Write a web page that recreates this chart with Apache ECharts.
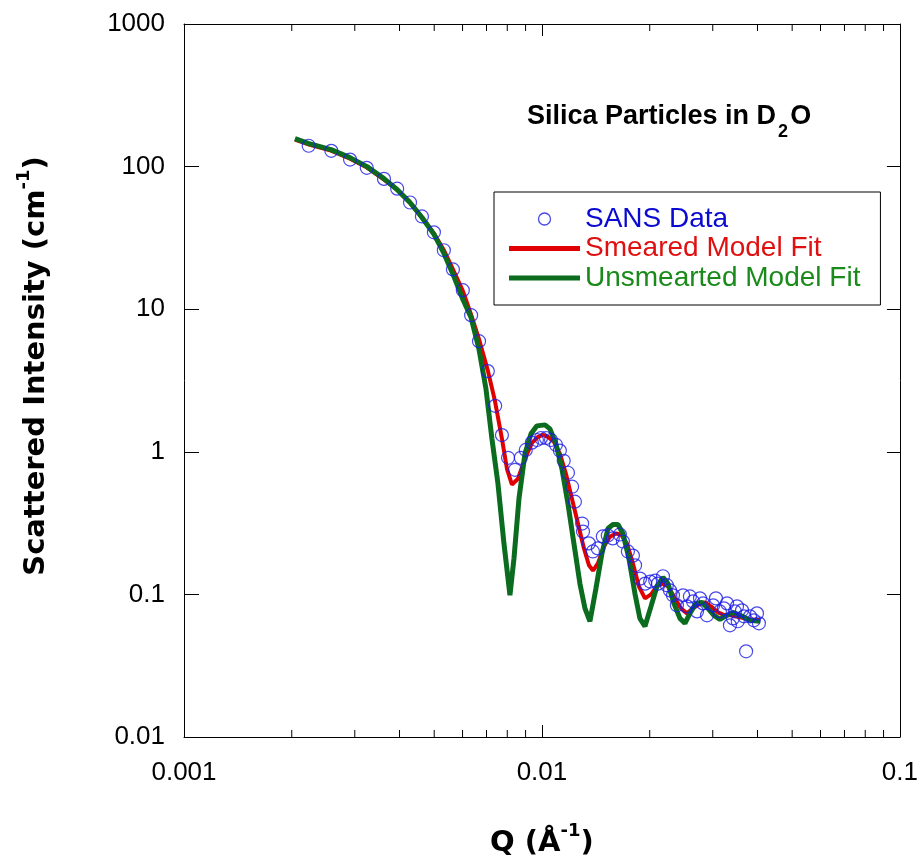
<!DOCTYPE html>
<html><head><meta charset="utf-8">
<script src="https://cdn.jsdelivr.net/npm/echarts@6/dist/echarts.min.js"></script>
<style>html,body{margin:0;padding:0;background:#fff;overflow:hidden;width:921px;height:863px}#c{position:absolute;left:0;top:0;width:921px;height:863px}</style>
</head><body><div id="c"></div><script>
const xTickLabels = ['0.001', '0.01', '0.1'];
const yTickLabels = ['0.01', '0.1', '1', '10', '100', '1000'];
const xMinorTicks = [0.002,0.003,0.004,0.005,0.006,0.007,0.008,0.009,0.02,0.03,0.04,0.05,0.06,0.07,0.08,0.09];

const sansData = [
 [0.00223,140],[0.00258,129],[0.00291,112],[0.00324,98],[0.00362,82],[0.00394,70],[0.00428,56],[0.00462,44.7],
 [0.00499,34.6],[0.00532,25.9],[0.00564,19.0],[0.00601,13.6],[0.00634,9.08],[0.00667,5.97],[0.00706,3.68],[0.00740,2.10],
 [0.00773,1.31],[0.00804,0.908],[0.00841,0.748],[0.00873,0.908],[0.00901,1.03],[0.00937,1.16],[0.00968,1.21],[0.00994,1.25],
 [0.01026,1.25],[0.0106,1.21],[0.01094,1.12],[0.01122,1.02],[0.01150,0.865],[0.01182,0.713],[0.01214,0.569],[0.01236,0.447],
 [0.01295,0.314],[0.01302,0.276],[0.01352,0.228],[0.01388,0.200],[0.01432,0.210],[0.01479,0.255],[0.01527,0.259],[0.01577,0.247],
 [0.01651,0.263],[0.01683,0.235],[0.01738,0.200],[0.01795,0.187],[0.01820,0.160],[0.01880,0.129],[0.01942,0.119],[0.02006,0.123],
 [0.02072,0.125],[0.02109,0.119],[0.02178,0.134],[0.02233,0.116],[0.02278,0.1067],[0.02323,0.0985],[0.02382,0.0838],[0.02478,0.0985],
 [0.02541,0.0824],[0.02590,0.0968],[0.02643,0.0893],[0.02711,0.0760],[0.02763,0.0938],[0.02820,0.0865],[0.02891,0.0713],[0.03007,0.0838],
 [0.03062,0.0938],[0.03141,0.0760],[0.03224,0.0798],[0.03289,0.0865],[0.03350,0.0607],[0.03416,0.0679],[0.03459,0.0760],[0.03506,0.0824],
 [0.03523,0.0648],[0.03622,0.0773],[0.03666,0.0702],[0.03718,0.0399],[0.03812,0.0702],[0.03908,0.0658],[0.03987,0.0736],[0.04037,0.0627]
];

const smearedFit = [
 [0.002042,154.5],[0.002235,142.5],[0.002574,129.4],[0.002909,113.7],[0.003245,98.4],[0.003620,81.1],[0.003936,69.1],[0.004279,56.0],
 [0.004622,44.0],[0.004993,34.0],[0.005324,25.9],[0.005641,19.0],[0.006015,13.4],[0.006333,9.23],[0.006668,6.17],[0.007066,3.68],
 [0.007391,2.27],[0.007732,1.233],[0.007983,0.760],[0.008245,0.588],[0.008570,0.647],[0.008963,0.893],[0.009377,1.156],[0.009745,1.273],
 [0.010065,1.315],[0.010394,1.273],[0.010801,1.175],[0.011227,0.968],[0.011667,0.702],[0.012127,0.469],[0.012605,0.314],[0.013101,0.210],
 [0.013528,0.160],[0.013881,0.147],[0.014332,0.165],[0.014897,0.217],[0.015484,0.254],[0.016095,0.267],[0.016622,0.263],[0.017275,0.227],
 [0.017950,0.165],[0.018653,0.114],[0.019400,0.0938],[0.020166,0.100],[0.020955,0.114],[0.021777,0.119],[0.022491,0.114],[0.023523,0.0938],
 [0.024449,0.0798],[0.025409,0.0736],[0.026412,0.0798],[0.027449,0.0851],[0.028531,0.0879],[0.029655,0.0824],[0.031017,0.0748],[0.032448,0.0713],
 [0.033938,0.0713],[0.035732,0.0690],[0.038107,0.0669],[0.040640,0.0658]
];

const unsmearedFit = [
 [0.002042,157.0],[0.002235,144.8],[0.002574,131.5],[0.002909,115.6],[0.003245,100],[0.003620,82.4],[0.003936,69.1],[0.004279,56.0],
 [0.004622,44.0],[0.004993,33.5],[0.005324,24.6],[0.005641,17.6],[0.006015,11.7],[0.006333,8.79],[0.006668,5.25],[0.006976,2.76],
 [0.007249,1.233],[0.007535,0.597],[0.007832,0.227],[0.008139,0.0985],[0.008352,0.1786],[0.008625,0.469],[0.008963,0.968],[0.009317,1.336],
 [0.009683,1.520],[0.010195,1.545],[0.010527,1.448],[0.010941,1.137],[0.011372,0.760],[0.011818,0.433],[0.012284,0.227],[0.012766,0.119],
 [0.013186,0.0798],[0.013615,0.0647],[0.014150,0.110],[0.014706,0.1936],[0.015290,0.2897],[0.015787,0.309],[0.016304,0.309],[0.016838,0.267],
 [0.017498,0.1786],[0.018183,0.1016],[0.018774,0.0679],[0.019400,0.0597],[0.020166,0.0824],[0.020955,0.114],[0.021777,0.1315],[0.022491,0.119],
 [0.023372,0.0865],[0.024292,0.0679],[0.025083,0.0627],[0.025900,0.0736],[0.026920,0.0865],[0.027980,0.0879],[0.029082,0.0798],[0.030226,0.0713],
 [0.031419,0.0669],[0.032869,0.0713],[0.034157,0.0748],[0.035732,0.0713],[0.038107,0.0658],[0.040640,0.0647]
];

const FONT = '"Liberation Sans", Arial, sans-serif';
const TFONT = '"DejaVu Sans", Verdana, sans-serif';
const Y_MIN = 0.01, Y_MAX = 1000, X_MIN = 0.001, X_MAX = 0.1;

function pickLabel(list, v) {
  const s = list.find(t => Math.abs(Math.log10(parseFloat(t)) - Math.log10(v)) < 1e-6);
  return s === undefined ? '' : s;
}

const chart = echarts.init(document.getElementById('c'), null, { width: 921, height: 863 });
const tickStyle = { color: '#000', width: 1 };
const axisRich = {
  a: { fontFamily: TFONT, fontSize: 29, fontWeight: 'bold', color: '#000', lineHeight: 29 },
  s: { fontFamily: TFONT, fontSize: 18, fontWeight: 'bold', color: '#000', lineHeight: 18, verticalAlign: 'bottom', padding: [0, 0, 18, 0] }
};
chart.setOption({
  animation: false,
  backgroundColor: '#fff',
  title: {
    left: 527, top: 103, padding: 0,
    text: '{a|Silica Particles in D}{s|2}{a|O}',
    textStyle: {
      rich: {
        a: { fontFamily: FONT, fontSize: 27, fontWeight: 'bold', color: '#000', lineHeight: 27 },
        s: { fontFamily: FONT, fontSize: 18, fontWeight: 'bold', color: '#000', lineHeight: 18, verticalAlign: 'top', padding: [20, 2, 0, 2] }
      }
    }
  },
  legend: {
    orient: 'vertical', left: 494, top: 192, padding: [13, 20, 13, 15],
    itemGap: 1.5, itemWidth: 71, itemHeight: 12, selectedMode: false,
    borderColor: '#000', borderWidth: 1, backgroundColor: '#fff',
    textStyle: { fontFamily: FONT, fontSize: 28, lineHeight: 28 },
    data: [
      { name: 'SANS Data', icon: 'circle', itemStyle: { color: 'transparent', borderColor: '#1a1ae6', borderWidth: 1.3 }, textStyle: { color: '#0a0ad2' } },
      { name: 'Smeared Model Fit', icon: 'path://M0,0H71V5H0Z', itemStyle: { color: '#e00000' }, textStyle: { color: '#e01010' } },
      { name: 'Unsmearted Model Fit', icon: 'path://M0,0H71V5H0Z', itemStyle: { color: '#0b6b1e' }, textStyle: { color: '#1a8a1a' } }
    ]
  },
  grid: { left: 184, right: 21, top: 24, bottom: 124 },
  xAxis: [
    {
      type: 'log', logBase: 10, min: X_MIN, max: X_MAX, position: 'bottom',
      axisLine: { show: true, lineStyle: { color: '#000', width: 1 } },
      axisTick: { show: true, inside: true, length: 12, lineStyle: tickStyle },
      axisLabel: { margin: 23, fontFamily: FONT, fontSize: 26, color: '#000', showMinLabel: true, showMaxLabel: true,
        formatter: v => pickLabel(xTickLabels, v) },
      splitLine: { show: false },
      name: '{a|Q (Å}{s|-1}{a|)}', nameLocation: 'middle', nameGap: 92,
      nameTextStyle: { rich: axisRich }
    },
    {
      type: 'log', logBase: 10, min: X_MIN, max: X_MAX, position: 'top',
      axisLine: { show: true, lineStyle: { color: '#000', width: 1 } },
      axisTick: { show: true, inside: true, length: 12, lineStyle: tickStyle },
      axisLabel: { show: false }, splitLine: { show: false }
    }
  ],
  yAxis: [
    {
      type: 'log', logBase: 10, min: Y_MIN, max: Y_MAX, position: 'left',
      axisLine: { show: true, lineStyle: { color: '#000', width: 1 } },
      axisTick: { show: true, inside: true, length: 15, lineStyle: tickStyle },
      axisLabel: { margin: 19, fontFamily: FONT, fontSize: 26, color: '#000', showMinLabel: true, showMaxLabel: true,
        formatter: v => pickLabel(yTickLabels, v) },
      splitLine: { show: false },
      name: '{a|Scattered Intensity (cm}{s|-1}{a|)}', nameLocation: 'middle', nameRotate: 90, nameGap: 133,
      nameTextStyle: { padding: [0, 0, 0, 29], rich: axisRich }
    },
    {
      type: 'log', logBase: 10, min: Y_MIN, max: Y_MAX, position: 'right',
      axisLine: { show: true, lineStyle: { color: '#000', width: 1 } },
      axisTick: { show: true, inside: true, length: 13, lineStyle: tickStyle },
      axisLabel: { show: false }, splitLine: { show: false }
    }
  ],
  series: [
    {
      name: 'Smeared Model Fit', type: 'line', data: smearedFit, showSymbol: false, z: 2,
      lineStyle: { color: '#e00000', width: 4 }, itemStyle: { color: '#e00000' }
    },
    {
      name: 'Unsmearted Model Fit', type: 'line', data: unsmearedFit, showSymbol: false, z: 3,
      lineStyle: { color: '#0b6b1e', width: 5 }, itemStyle: { color: '#0b6b1e' }
    },
    {
      name: 'SANS Data', type: 'scatter', data: sansData, symbol: 'circle', symbolSize: 13, z: 4,
      itemStyle: { color: 'transparent', borderColor: '#1a1ae6', borderWidth: 1.2 }
    },
    {
      name: 'minorTicks', type: 'custom', silent: true, z: 5,
      data: xMinorTicks.map(v => [v, 1]),
      renderItem: function (params, api) {
        const v = api.value(0);
        const b = api.coord([v, Y_MIN]);
        const t = api.coord([v, Y_MAX]);
        return {
          type: 'group',
          children: [
            { type: 'line', shape: { x1: b[0], y1: b[1], x2: b[0], y2: b[1] - 7 }, style: { stroke: '#000', lineWidth: 1 } },
            { type: 'line', shape: { x1: t[0], y1: t[1], x2: t[0], y2: t[1] + 7 }, style: { stroke: '#000', lineWidth: 1 } }
          ]
        };
      }
    }
  ]
});
</script></body></html>
